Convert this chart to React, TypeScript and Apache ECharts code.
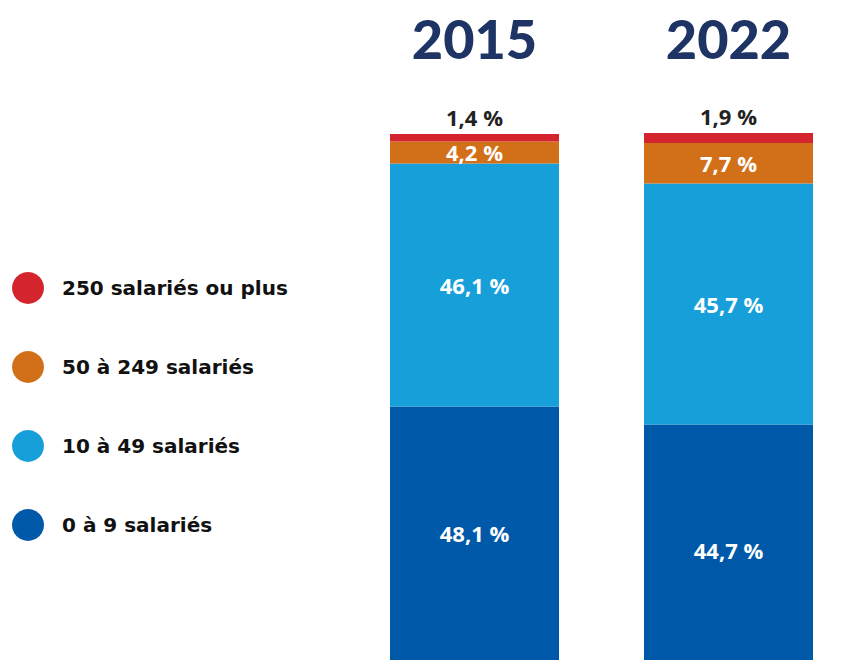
import React, { useEffect, useRef } from "react";
import * as echarts from "echarts";

const years = ["2015", "2022"];
const seriesNames = ["0 à 9 salariés", "10 à 49 salariés", "50 à 249 salariés", "250 salariés ou plus"];
const v0to9 = [48.1, 44.7];
const v10to49 = [46.1, 45.7];
const v50to249 = [4.2, 7.7];
const v250plus = [1.4, 1.9];
const colors = ["#0059a8", "#179fd9", "#d2701a", "#d4242e"];
const legendOrder = ["250 salariés ou plus", "50 à 249 salariés", "10 à 49 salariés", "0 à 9 salariés"];

const fmt = (p: any) => `${String(p.value).replace(".", ",")} %`;

export default function App() {
  const ref = useRef<HTMLDivElement>(null);
  useEffect(() => {
    if (!ref.current) return;
    const chart = echarts.init(ref.current, null, { renderer: "svg" });
    const values = [v0to9, v10to49, v50to249, v250plus];
    const series = values.map((vals, i) => ({
      name: seriesNames[i],
      type: "bar",
      stack: "total",
      barWidth: 169,
      data: vals.map((v, j) =>
        i === 0 && j === 1 ? { value: v, label: { offset: [0, 8] } } : v
      ),
      itemStyle: { color: colors[i] },
      label: {
        show: true,
        position: i === 3 ? "top" : "inside",
        distance: 6,
        formatter: fmt,
        color: i === 3 ? "#222222" : "#ffffff",
        fontFamily: "Open Sans",
        fontWeight: 700,
        fontSize: 22,
      },
    }));
    chart.setOption({
      animation: false,
      legend: {
        data: legendOrder,
        orient: "vertical",
        left: 12,
        top: 272,
        padding: 0,
        itemWidth: 32,
        itemHeight: 32,
        itemGap: 47,
        icon: "circle",
        selectedMode: false,
        textStyle: {
          fontFamily: "DejaVu Sans",
          fontWeight: 700,
          fontSize: 20,
          color: "#111111",
          padding: [0, 0, 0, 13],
        },
      },
      grid: {
        left: 347.5,
        width: 508,
        top: 133,
        bottom: 0,
        containLabel: false,
        outerBoundsMode: "none",
      },
      xAxis: {
        type: "category",
        position: "top",
        data: years,
        axisLine: { show: false },
        axisTick: { show: false },
        axisLabel: {
          margin: 95,
          verticalAlign: "middle",
          fontFamily: "Lato",
          fontWeight: 900,
          fontSize: 54,
          color: "#1d3464",
        },
      },
      yAxis: {
        type: "value",
        min: 0,
        max: 100,
        show: false,
        splitLine: { show: false },
      },
      series,
    });
    return () => chart.dispose();
  }, []);
  return (
    <div
      ref={ref}
      style={{ position: "fixed", left: 0, top: 0, width: 847, height: 660, background: "#ffffff" }}
    />
  );
}
